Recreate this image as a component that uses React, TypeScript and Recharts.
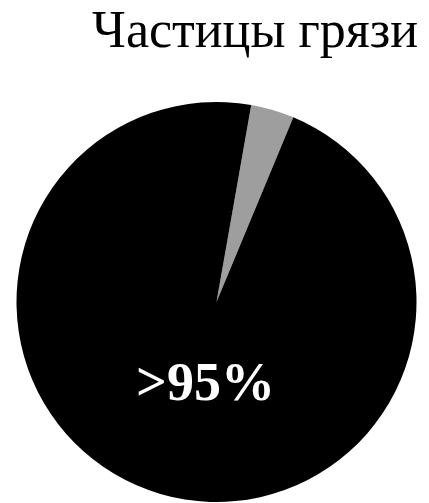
import React from "react";
import { Customized, Pie, PieChart, Cell } from "recharts";

// share of particles: small grey wedge vs the rest
const sliceNames = ["Прочее", "Частицы грязи"];
const sliceValues = [3.5, 96.5];
const sliceColors = ["#9e9e9e", "#000000"];
const title = "Частицы грязи";
const mainLabel = ">95%";

const data = sliceNames.map((name, i) => ({ name, value: sliceValues[i] }));

const serif = "'Liberation Serif', 'Times New Roman', serif";

function renderLabel(props: any) {
  if (props.index !== 1) return null;
  return (
    <text
      x={props.cx - 11}
      y={props.cy + 98}
      fill="#ffffff"
      textAnchor="middle"
      fontFamily={serif}
      fontWeight="bold"
      fontSize={54}
    >
      {mainLabel}
    </text>
  );
}

function Title() {
  return (
    <text x={418} y={47} textAnchor="end" fontFamily={serif} fontSize={52} fill="#000">
      {title}
    </text>
  );
}

export default function App() {
  return (
    <div style={{ position: "absolute", left: 0, top: 0, background: "#fff" }}>
      <PieChart width={429} height={503} margin={{ top: 0, right: 0, bottom: 0, left: 0 }}>
        <Pie
          data={data}
          dataKey="value"
          nameKey="name"
          cx={216.5}
          cy={302}
          outerRadius={200}
          startAngle={80}
          endAngle={-280}
          stroke="none"
          label={renderLabel}
          labelLine={false}
          isAnimationActive={false}
        >
          {data.map((d, i) => (
            <Cell key={d.name} fill={sliceColors[i]} />
          ))}
        </Pie>
        <Customized component={Title} />
      </PieChart>
    </div>
  );
}
